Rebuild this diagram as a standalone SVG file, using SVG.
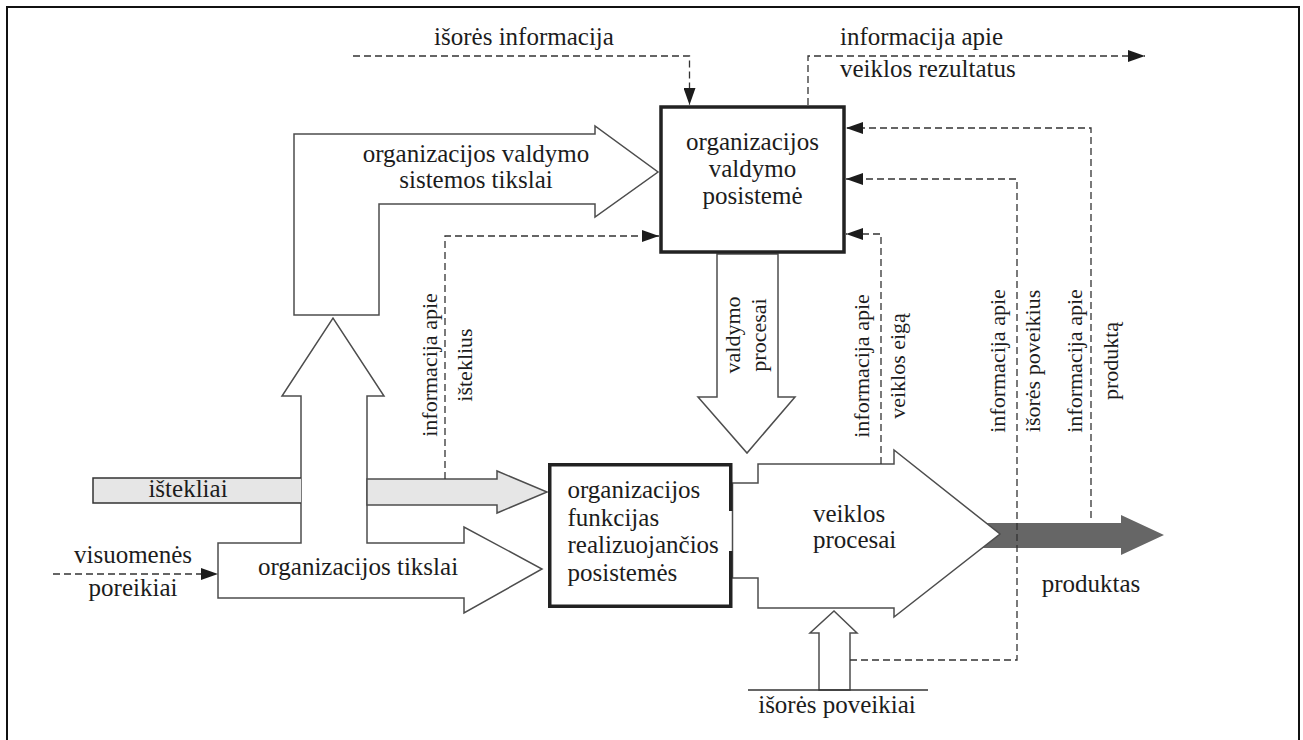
<svg xmlns="http://www.w3.org/2000/svg" width="1303" height="740" viewBox="0 0 1303 740" font-family="'Liberation Serif', 'DejaVu Serif', serif">
  <style>
    text { font-family: 'Liberation Serif', 'DejaVu Serif', serif; font-size: 25px; fill: #1c1c1c; }
    .v { font-size: 22px; text-anchor: middle; }
    .c { text-anchor: middle; }
    .outline { fill: #ffffff; stroke: #4d4d4d; stroke-width: 1.5; stroke-linejoin: miter; }
    .grey { fill: #e6e6e6; stroke: #4d4d4d; stroke-width: 1.5; }
    .dark { fill: #666666; stroke: none; }
    .box { fill: none; stroke: #222222; stroke-width: 3.5; }
    .dash { fill: none; stroke: #333333; stroke-width: 1.3; stroke-dasharray: 7 4; marker-end: url(#head); }
    .plain { fill: none; stroke: #333333; stroke-width: 1.5; }
  </style>
  <defs>
    <marker id="head" markerUnits="userSpaceOnUse" markerWidth="17" markerHeight="12" refX="17" refY="6" orient="auto">
      <path d="M0,0 L17,6 L0,12 z" fill="#1c1c1c"/>
    </marker>
  </defs>

  <rect width="1303" height="740" fill="#ffffff"/>
  <!-- page frame -->
  <path d="M7,760 V7 H1299 V760" fill="none" stroke="#111111" stroke-width="2"/>

  <!-- product arrow, drawn under the process arrow -->
  <g id="produktas">
    <polygon class="dark" points="975,523 1121,523 1121,515 1164,535 1121,555 1121,548 975,548"/>
    <text class="c" x="1091" y="592">produktas</text>
  </g>

  <!-- goals of the management system (bent arrow) -->
  <g id="valdymo-tikslai">
    <polygon class="outline" points="294,315 294,134 595,134 595,126 658,172 595,217 595,204 379,204 379,315"/>
    <text class="c" x="476" y="162">organizacijos valdymo</text>
    <text class="c" x="476" y="188">sistemos tikslai</text>
  </g>

  <!-- organisation goals with the upward branch -->
  <g id="organizacijos-tikslai">
    <polygon class="outline" points="218,543 301,543 301,396 282,396 333,318 384,396 367,396 367,543 464,543 464,527 542,569 464,613 464,598 218,598"/>
    <text class="c" x="358" y="575">organizacijos tikslai</text>
  </g>

  <!-- resources -->
  <g id="istekliai">
    <rect x="93" y="478" width="208" height="25" fill="#e6e6e6"/>
    <path class="plain" d="M301,478 H93 V503 H301" stroke="#4d4d4d"/>
    <polygon class="grey" points="367,479 497,479 497,471 547,492 497,513 497,505 367,505"/>
    <text class="c" x="188" y="497">ištekliai</text>
  </g>

  <!-- management processes -->
  <g id="valdymo-procesai">
    <polygon class="outline" points="717,254 717,397 698,397 747,453 795,397 778,397 778,254"/>
    <text class="v" transform="translate(740,335) rotate(-90)">valdymo</text>
    <text class="v" transform="translate(766,335) rotate(-90)">procesai</text>
  </g>

  <!-- activity processes -->
  <g id="veiklos-procesai">
    <polygon class="outline" points="732.5,483 758,483 758,464 894,464 894,450 1000,534 894,617 894,608 758,608 758,578 732.5,578"/>
    <text x="813" y="522">veiklos</text>
    <text x="813" y="548">procesai</text>
  </g>

  <!-- external influences -->
  <g id="isores-poveikiai">
    <polygon class="outline" points="819,690 819,633 810,633 834,611 857,633 850,633 850,690"/>
    <path class="plain" d="M748,690 H928"/>
    <text class="c" x="837" y="713">išorės poveikiai</text>
  </g>

  <!-- management subsystem -->
  <g id="valdymo-posisteme">
    <rect class="box" x="661" y="107" width="183" height="145" fill="#ffffff"/>
    <text class="c" x="752.5" y="150">organizacijos</text>
    <text class="c" x="752.5" y="177">valdymo</text>
    <text class="c" x="752.5" y="204">posistemė</text>
  </g>

  <!-- function-performing subsystems -->
  <g id="funkcijas-realizuojancios">
    <path class="box" d="M730.75,511 V464.75 H549.75 V606.25 H730.75 V551"/>
    <text x="567.5" y="498">organizacijos</text>
    <text x="567.5" y="525.5">funkcijas</text>
    <text x="567.5" y="553">realizuojančios</text>
    <text x="567.5" y="580.5">posistemės</text>
  </g>

  <!-- information flows -->
  <g id="connectors">
    <path class="dash" d="M353,56 H689.5 V105"/>
    <path class="dash" d="M808,105 V56 H1145"/>
    <path class="dash" d="M445,479 V236 H659"/>
    <path class="dash" d="M881,464 V234 H846"/>
    <path class="dash" d="M850,660 H1017 V179 H846"/>
    <path class="dash" d="M1091,518 V128 H846"/>
    <path class="dash" d="M53,574 H218"/>
  </g>

  <!-- labels of the flows -->
  <g id="labels">
    <text class="c" x="524" y="45">išorės informacija</text>
    <text x="840" y="45">informacija apie</text>
    <text x="840" y="77">veiklos rezultatus</text>
    <text class="c" x="133" y="563">visuomenės</text>
    <text class="c" x="133" y="596">poreikiai</text>
    <text class="v" transform="translate(437,365) rotate(-90)">informacija apie</text>
    <text class="v" transform="translate(472,365) rotate(-90)">išteklius</text>
    <text class="v" transform="translate(869,366) rotate(-90)">informacija apie</text>
    <text class="v" transform="translate(905,366) rotate(-90)">veiklos eigą</text>
    <text class="v" transform="translate(1005,361) rotate(-90)">informacija apie</text>
    <text class="v" transform="translate(1040,361) rotate(-90)">išorės poveikius</text>
    <text class="v" transform="translate(1082,361) rotate(-90)">informacija apie</text>
    <text class="v" transform="translate(1118,361) rotate(-90)">produktą</text>
  </g>
</svg>
